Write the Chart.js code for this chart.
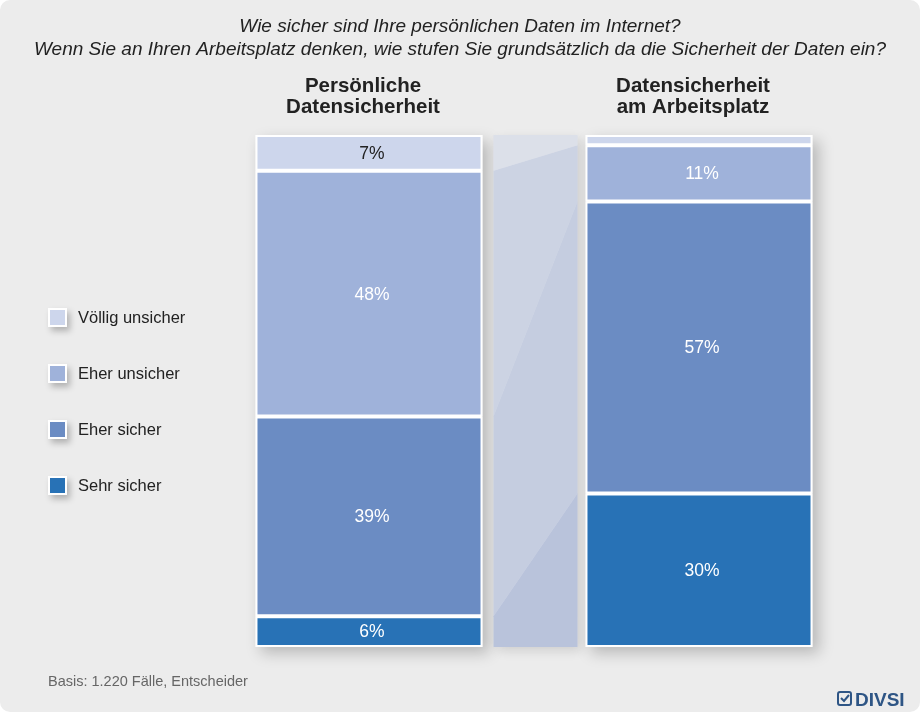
<!DOCTYPE html>
<html>
<head>
<meta charset="utf-8">
<script src="https://cdn.jsdelivr.net/npm/chart.js@4.4.1/dist/chart.umd.min.js"></script>
<style>
  html, body { margin: 0; padding: 0; background: #ffffff; }
  #wrap { width: 920px; height: 712px; position: relative; }
</style>
</head>
<body>
<div id="wrap"><canvas id="myChart" width="920" height="712"></canvas></div>
<script>
// Chart data
var categories = [['Persönliche', 'Datensicherheit'], ['Datensicherheit', 'am Arbeitsplatz']];
var seriesLabels = ['Sehr sicher', 'Eher sicher', 'Eher unsicher', 'Völlig unsicher'];
var sehrSicher = [6, 30];
var eherSicher = [39, 57];
var eherUnsicher = [48, 11];
var voelligUnsicher = [7, 2];
var titleLines = ['Wie sicher sind Ihre persönlichen Daten im Internet?',
  'Wenn Sie an Ihren Arbeitsplatz denken, wie stufen Sie grundsätzlich da die Sicherheit der Daten ein?'];
var footnote = 'Basis: 1.220 Fälle, Entscheider';

// Styles
var segColors = ['#2872b6', '#6b8cc3', '#9fb2da', '#cdd6ec'];
var bandColors = ['rgba(150,165,205,0.55)', 'rgba(160,175,210,0.45)', 'rgba(175,188,218,0.45)', 'rgba(215,220,232,0.6)'];
var labelColors = ['#ffffff', '#ffffff', '#ffffff', '#222222'];
var FONT = '"Liberation Sans", Arial, sans-serif';

function roundRect(ctx, x, y, w, h, r) {
  ctx.beginPath();
  ctx.moveTo(x + r, y);
  ctx.arcTo(x + w, y, x + w, y + h, r);
  ctx.arcTo(x + w, y + h, x, y + h, r);
  ctx.arcTo(x, y + h, x, y, r);
  ctx.arcTo(x, y, x + w, y, r);
  ctx.closePath();
}

// background card, shadows and connecting band
var backdrop = {
  id: 'backdrop',
  beforeDraw: function (chart) {
    var ctx = chart.ctx;
    ctx.save();
    ctx.fillStyle = '#ececec';
    roundRect(ctx, 0, 0, chart.width, chart.height, 10);
    ctx.fill();
    ctx.restore();
  },
  beforeDatasetsDraw: function (chart) {
    var ctx = chart.ctx;
    var n = chart.data.datasets.length;
    var first = chart.getDatasetMeta(0).data;
    var last = chart.getDatasetMeta(n - 1).data;
    ctx.save();
    // bar shadows
    for (var j = 0; j < first.length; j++) {
      var w = first[j].width;
      ctx.shadowColor = 'rgba(0,0,0,0.22)';
      ctx.shadowBlur = 14;
      ctx.shadowOffsetX = 6;
      ctx.shadowOffsetY = 6;
      ctx.fillStyle = '#ffffff';
      ctx.fillRect(first[j].x - w / 2, last[j].y, w, first[j].base - last[j].y);
    }
    // connecting strip between the two bars
    var x0 = first[0].x + first[0].width / 2 + 11;
    var x1 = first[1].x - first[1].width / 2 - 8;
    var top = last[0].y, bottom = first[0].base;
    ctx.shadowColor = 'rgba(0,0,0,0.12)';
    ctx.shadowBlur = 10;
    ctx.shadowOffsetX = 4;
    ctx.shadowOffsetY = 4;
    ctx.fillStyle = '#e4e6ec';
    ctx.fillRect(x0, top, x1 - x0, bottom - top);
    ctx.shadowColor = 'transparent';
    for (var i = 0; i < n; i++) {
      var a = chart.getDatasetMeta(i).data;
      ctx.beginPath();
      ctx.moveTo(x0, a[0].base);
      ctx.lineTo(x1, a[1].base);
      ctx.lineTo(x1, a[1].y);
      ctx.lineTo(x0, a[0].y);
      ctx.closePath();
      ctx.fillStyle = bandColors[i];
      ctx.fill();
    }
    ctx.restore();
  },
  afterDatasetsDraw: function (chart) {
    var ctx = chart.ctx;
    ctx.save();
    ctx.font = '17.5px ' + FONT;
    ctx.textAlign = 'center';
    ctx.textBaseline = 'middle';
    chart.data.datasets.forEach(function (ds, i) {
      chart.getDatasetMeta(i).data.forEach(function (el, j) {
        if (ds.data[j] < 5) return;
        ctx.fillStyle = labelColors[i];
        ctx.fillText(ds.data[j] + '%', el.x + 3, (el.y + el.base) / 2 + 1);
      });
    });
    ctx.restore();
  },
  afterDraw: function (chart) {
    var ctx = chart.ctx;
    ctx.save();
    // title
    ctx.fillStyle = '#222222';
    ctx.textAlign = 'center';
    ctx.textBaseline = 'middle';
    ctx.font = 'italic 19px ' + FONT;
    ctx.fillText(titleLines[0], chart.width / 2, 27);
    ctx.fillText(titleLines[1], chart.width / 2, 50);
    // bar headers
    ctx.font = 'bold 20.5px ' + FONT;
    var meta = chart.getDatasetMeta(0).data;
    categories.forEach(function (lines, j) {
      lines.forEach(function (t, k) {
        ctx.fillText(t, meta[j].x - 6, 86 + k * 21);
      });
    });
    // legend (top to bottom: reverse stacking order)
    ctx.textAlign = 'left';
    ctx.font = '16.5px ' + FONT;
    for (var k = 0; k < seriesLabels.length; k++) {
      var idx = seriesLabels.length - 1 - k;
      var cy = 317 + k * 56;
      ctx.save();
      ctx.shadowColor = 'rgba(0,0,0,0.25)';
      ctx.shadowBlur = 6;
      ctx.shadowOffsetX = 3;
      ctx.shadowOffsetY = 4;
      ctx.fillStyle = '#ffffff';
      ctx.fillRect(48, cy - 9, 19, 19);
      ctx.restore();
      ctx.fillStyle = segColors[idx];
      ctx.fillRect(50, cy - 7, 15, 15);
      ctx.fillStyle = '#222222';
      ctx.fillText(seriesLabels[idx], 78, cy + 1);
    }
    // footnote
    ctx.fillStyle = '#666666';
    ctx.font = '14.5px ' + FONT;
    ctx.fillText(footnote, 48, 682);
    // logo
    ctx.strokeStyle = '#2e5585';
    ctx.lineWidth = 2;
    roundRect(ctx, 838, 692, 13, 13, 2);
    ctx.stroke();
    ctx.beginPath();
    ctx.moveTo(841, 698);
    ctx.lineTo(844, 701);
    ctx.lineTo(849, 695);
    ctx.stroke();
    ctx.fillStyle = '#2e5585';
    ctx.font = 'bold 19px ' + FONT;
    ctx.textBaseline = 'alphabetic';
    ctx.fillText('DIVSI', 855, 706);
    ctx.restore();
  }
};

var seriesData = [sehrSicher, eherSicher, eherUnsicher, voelligUnsicher];

function displayChart() {
  var ctx = document.getElementById('myChart').getContext('2d');
  var myChart = new Chart(ctx, {
    type: 'bar',
    data: {
      labels: categories,
      datasets: seriesLabels.map(function (lab, i) {
        return {
          label: lab,
          data: seriesData[i],
          backgroundColor: segColors[i],
          borderColor: '#ffffff',
          borderWidth: 2,
          borderSkipped: false,
          barPercentage: 1,
          categoryPercentage: 0.688
        };
      })
    },
    options: {
      responsive: false,
      animation: false,
      layout: { padding: { left: 204, right: 56, top: 135, bottom: 65 } },
      scales: {
        x: { stacked: true, display: false },
        y: { stacked: true, display: false, min: 0, max: 100 }
      },
      plugins: {
        legend: { display: false },
        tooltip: { enabled: false }
      }
    },
    plugins: [backdrop]
  });
}

displayChart();
</script>
</body>
</html>
